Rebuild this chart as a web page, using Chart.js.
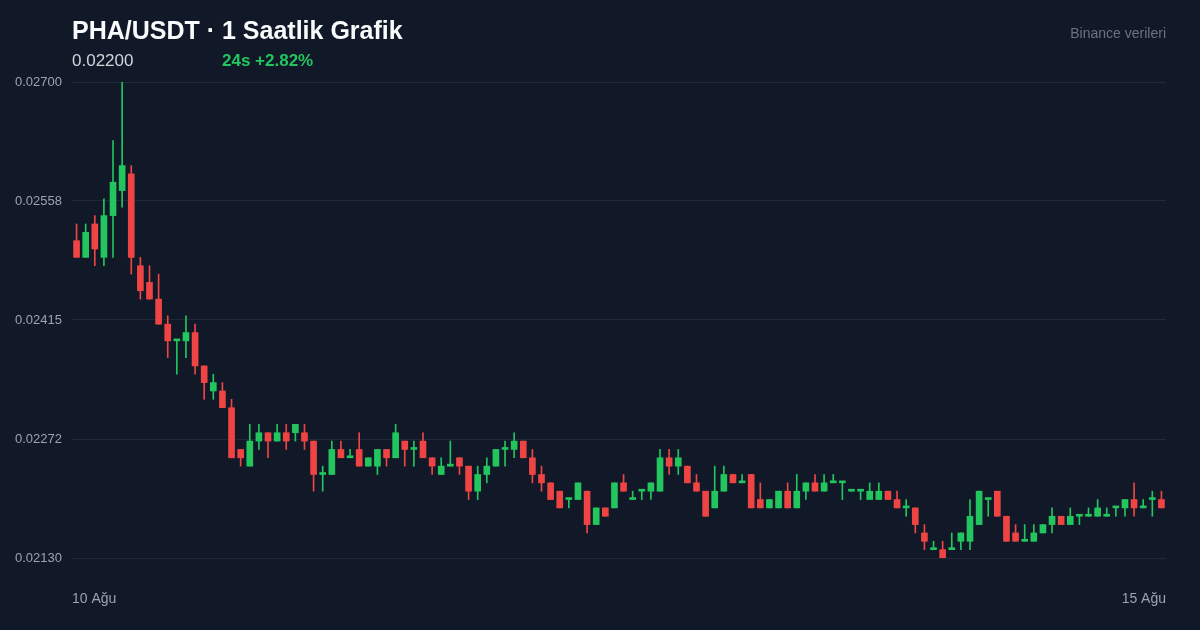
<!DOCTYPE html>
<html lang="tr">
<head>
    <meta charset="UTF-8">
    <title>PHA/USDT 1 Saatlik Grafik</title>
    <script src="https://cdn.jsdelivr.net/npm/chart.js"></script>
    <style>
        html, body {
            margin: 0;
            padding: 0;
            background: #111827;
            font-family: "Liberation Sans", Arial, sans-serif;
        }
        #wrap {
            position: relative;
            width: 1200px;
            height: 630px;
        }
        #chart {
            position: absolute;
            left: 0;
            top: 0;
        }
        .title {
            position: absolute;
            left: 72px;
            top: 14px;
            font-size: 25px;
            line-height: 32px;
            font-weight: bold;
            color: #f9fafb;
        }
        .price {
            position: absolute;
            left: 72px;
            top: 51px;
            font-size: 17px;
            line-height: 20px;
            color: #d1d5db;
        }
        .change {
            position: absolute;
            left: 222px;
            top: 51px;
            font-size: 17px;
            line-height: 20px;
            font-weight: bold;
            color: #22c55e;
        }
        .source {
            position: absolute;
            right: 34px;
            top: 24px;
            font-size: 14px;
            line-height: 18px;
            color: #6b7280;
        }
    </style>
</head>
<body>
<div id="wrap">
    <canvas id="chart" width="1200" height="630"></canvas>
    <div class="title">PHA/USDT · 1 Saatlik Grafik</div>
    <div class="price">0.02200</div>
    <div class="change">24s +2.82%</div>
    <div class="source">Binance verileri</div>
</div>
<script>
    // hourly candles, 10 Ağu -> 15 Ağu
    var opens = [
        0.0251, 0.0249, 0.0253, 0.0249, 0.0254, 0.0257, 0.0259, 0.0248, 0.0246, 0.0244,
        0.0241, 0.0239, 0.0239, 0.0240, 0.0236, 0.0233, 0.0233, 0.0231, 0.0226, 0.0224,
        0.0227, 0.0228, 0.0227, 0.0228, 0.0228, 0.0228, 0.0227, 0.0223, 0.0223, 0.0226,
        0.0225, 0.0226, 0.0224, 0.0224, 0.0226, 0.0225, 0.0227, 0.0226, 0.0227, 0.0225,
        0.0223, 0.0224, 0.0225, 0.0224, 0.0221, 0.0223, 0.0224, 0.0226, 0.0226, 0.0227,
        0.0225, 0.0223, 0.0222, 0.0221, 0.0220, 0.0220, 0.0221, 0.0217, 0.0219, 0.0219,
        0.0222, 0.0220, 0.0221, 0.0221, 0.0221, 0.0225, 0.0224, 0.0224, 0.0222, 0.0221,
        0.0219, 0.0221, 0.0223, 0.0222, 0.0223, 0.0220, 0.0219, 0.0219, 0.0221, 0.0219,
        0.0221, 0.0222, 0.0221, 0.0222, 0.0222, 0.0221, 0.0221, 0.0220, 0.0220, 0.0221,
        0.0220, 0.0219, 0.0219, 0.0216, 0.0214, 0.0214, 0.0214, 0.0215, 0.0215, 0.0217,
        0.0220, 0.0221, 0.0218, 0.0216, 0.0215, 0.0215, 0.0216, 0.0217, 0.0218, 0.0217,
        0.0218, 0.0218, 0.0218, 0.0218, 0.0219, 0.0219, 0.0220, 0.0219, 0.0220, 0.0220
    ];
    var highs = [
        0.0253, 0.0253, 0.0254, 0.0256, 0.0263, 0.0270, 0.0260, 0.0249, 0.0248, 0.0247,
        0.0242, 0.0239, 0.0242, 0.0241, 0.0236, 0.0235, 0.0234, 0.0232, 0.0226, 0.0229,
        0.0229, 0.0228, 0.0229, 0.0229, 0.0229, 0.0229, 0.0227, 0.0224, 0.0227, 0.0227,
        0.0226, 0.0228, 0.0225, 0.0226, 0.0226, 0.0229, 0.0227, 0.0227, 0.0228, 0.0225,
        0.0225, 0.0227, 0.0225, 0.0224, 0.0224, 0.0225, 0.0226, 0.0227, 0.0228, 0.0227,
        0.0226, 0.0224, 0.0222, 0.0221, 0.0220, 0.0222, 0.0221, 0.0219, 0.0219, 0.0222,
        0.0223, 0.0221, 0.0221, 0.0222, 0.0226, 0.0226, 0.0226, 0.0224, 0.0223, 0.0221,
        0.0224, 0.0224, 0.0223, 0.0223, 0.0223, 0.0222, 0.0220, 0.0221, 0.0222, 0.0223,
        0.0222, 0.0223, 0.0223, 0.0223, 0.0222, 0.0221, 0.0221, 0.0222, 0.0222, 0.0221,
        0.0221, 0.0220, 0.0219, 0.0217, 0.0215, 0.0215, 0.0216, 0.0216, 0.0220, 0.0221,
        0.0220, 0.0221, 0.0218, 0.0217, 0.0217, 0.0217, 0.0217, 0.0219, 0.0218, 0.0219,
        0.0218, 0.0219, 0.0220, 0.0219, 0.0219, 0.0220, 0.0222, 0.0220, 0.0221, 0.0221
    ];
    var lows = [
        0.0249, 0.0249, 0.0248, 0.0248, 0.0249, 0.0255, 0.0247, 0.0244, 0.0244, 0.0241,
        0.0237, 0.0235, 0.0237, 0.0235, 0.0232, 0.0232, 0.0231, 0.0225, 0.0224, 0.0224,
        0.0226, 0.0225, 0.0227, 0.0226, 0.0227, 0.0226, 0.0221, 0.0221, 0.0223, 0.0225,
        0.0225, 0.0224, 0.0224, 0.0223, 0.0224, 0.0225, 0.0224, 0.0224, 0.0225, 0.0223,
        0.0223, 0.0224, 0.0223, 0.0220, 0.0220, 0.0222, 0.0224, 0.0224, 0.0225, 0.0225,
        0.0222, 0.0221, 0.0220, 0.0219, 0.0219, 0.0220, 0.0216, 0.0217, 0.0218, 0.0219,
        0.0221, 0.0220, 0.0220, 0.0220, 0.0221, 0.0223, 0.0223, 0.0222, 0.0221, 0.0218,
        0.0219, 0.0221, 0.0222, 0.0222, 0.0219, 0.0219, 0.0219, 0.0219, 0.0219, 0.0219,
        0.0220, 0.0221, 0.0221, 0.0222, 0.0220, 0.0221, 0.0220, 0.0220, 0.0220, 0.0220,
        0.0219, 0.0218, 0.0216, 0.0214, 0.0214, 0.0213, 0.0214, 0.0214, 0.0214, 0.0217,
        0.0218, 0.0218, 0.0215, 0.0215, 0.0215, 0.0215, 0.0216, 0.0216, 0.0217, 0.0217,
        0.0217, 0.0218, 0.0218, 0.0218, 0.0218, 0.0218, 0.0218, 0.0219, 0.0218, 0.0219
    ];
    var closes = [
        0.0249, 0.0252, 0.0250, 0.0254, 0.0258, 0.0260, 0.0249, 0.0245, 0.0244, 0.0241,
        0.0239, 0.0239, 0.0240, 0.0236, 0.0234, 0.0234, 0.0231, 0.0225, 0.0225, 0.0227,
        0.0228, 0.0227, 0.0228, 0.0227, 0.0229, 0.0227, 0.0223, 0.0223, 0.0226, 0.0225,
        0.0225, 0.0224, 0.0225, 0.0226, 0.0225, 0.0228, 0.0226, 0.0226, 0.0225, 0.0224,
        0.0224, 0.0224, 0.0224, 0.0221, 0.0223, 0.0224, 0.0226, 0.0226, 0.0227, 0.0225,
        0.0223, 0.0222, 0.0220, 0.0219, 0.0220, 0.0222, 0.0217, 0.0219, 0.0218, 0.0222,
        0.0221, 0.0220, 0.0221, 0.0222, 0.0225, 0.0224, 0.0225, 0.0222, 0.0221, 0.0218,
        0.0221, 0.0223, 0.0222, 0.0222, 0.0219, 0.0219, 0.0220, 0.0221, 0.0219, 0.0221,
        0.0222, 0.0221, 0.0222, 0.0222, 0.0222, 0.0221, 0.0221, 0.0221, 0.0221, 0.0220,
        0.0219, 0.0219, 0.0217, 0.0215, 0.0214, 0.0213, 0.0214, 0.0216, 0.0218, 0.0221,
        0.0220, 0.0218, 0.0215, 0.0215, 0.0215, 0.0216, 0.0217, 0.0218, 0.0217, 0.0218,
        0.0218, 0.0218, 0.0219, 0.0218, 0.0219, 0.0220, 0.0219, 0.0219, 0.0220, 0.0219
    ];

    var yTickValues = [0.0213, 0.022725, 0.02415, 0.025575, 0.027];
    var yTickLabels = ['0.02130', '0.02272', '0.02415', '0.02558', '0.02700'];
    var dateLabels = ['10 Ağu', '15 Ağu'];

    var UP = '#22c55e';
    var DOWN = '#ef4444';

    // one category per hour
    var hours = [];
    var start = new Date(2024, 7, 10, 0, 0);
    for (var i = 0; i < opens.length; i++) {
        var d = new Date(start.getTime() + i * 3600 * 1000);
        hours.push(d.getDate() + ' Ağu ' + String(d.getHours()).padStart(2, '0') + ':00');
    }

    var colors = opens.map(function(o, i) {
        return closes[i] >= o ? UP : DOWN;
    });
    var bodies = opens.map(function(o, i) { return [o, closes[i]]; });
    var wicks = lows.map(function(l, i) { return [l, highs[i]]; });

    var ctx = document.getElementById('chart').getContext('2d');
    var chart = new Chart(ctx, {
        type: 'bar',
        data: {
            labels: hours,
            datasets: [{
                label: 'Gövde',
                data: bodies,
                backgroundColor: colors,
                borderWidth: 0,
                barThickness: 6,
                minBarLength: 2,
                grouped: false
            }, {
                label: 'Fitil',
                data: wicks,
                backgroundColor: colors,
                borderWidth: 0,
                barThickness: 1,
                grouped: false
            }]
        },
        options: {
            responsive: false,
            animation: false,
            layout: {
                padding: { top: 82, right: 34, left: 15, bottom: 0 }
            },
            plugins: {
                legend: { display: false },
                tooltip: { enabled: false }
            },
            scales: {
                x: {
                    display: false,
                    offset: true
                },
                // first / last date at the plot edges
                dates: {
                    type: 'linear',
                    axis: 'x',
                    position: 'bottom',
                    min: 0,
                    max: 1,
                    offset: false,
                    grid: { display: false, drawTicks: false, offset: false },
                    border: { display: false },
                    afterBuildTicks: function(scale) {
                        scale.ticks = [{ value: 0 }, { value: 1 }];
                    },
                    afterFit: function(scale) {
                        scale.height = 72;
                    },
                    ticks: {
                        align: 'inner',
                        autoSkip: false,
                        maxRotation: 0,
                        padding: 33,
                        color: '#9ca3af',
                        font: { family: '"Liberation Sans", Arial, sans-serif', size: 14 },
                        callback: function(value, index) {
                            return dateLabels[index];
                        }
                    }
                },
                y: {
                    min: 0.0213,
                    max: 0.027,
                    grid: { color: '#1f2937', lineWidth: 1, drawTicks: false },
                    border: { display: false },
                    afterBuildTicks: function(scale) {
                        scale.ticks = yTickValues.map(function(v) { return { value: v }; });
                    },
                    afterFit: function(scale) {
                        scale.width = 57;
                    },
                    ticks: {
                        padding: 10,
                        color: '#9ca3af',
                        font: { family: '"Liberation Sans", Arial, sans-serif', size: 13 },
                        callback: function(value, index) {
                            return yTickLabels[index];
                        }
                    }
                }
            }
        }
    });
</script>
</body>
</html>
